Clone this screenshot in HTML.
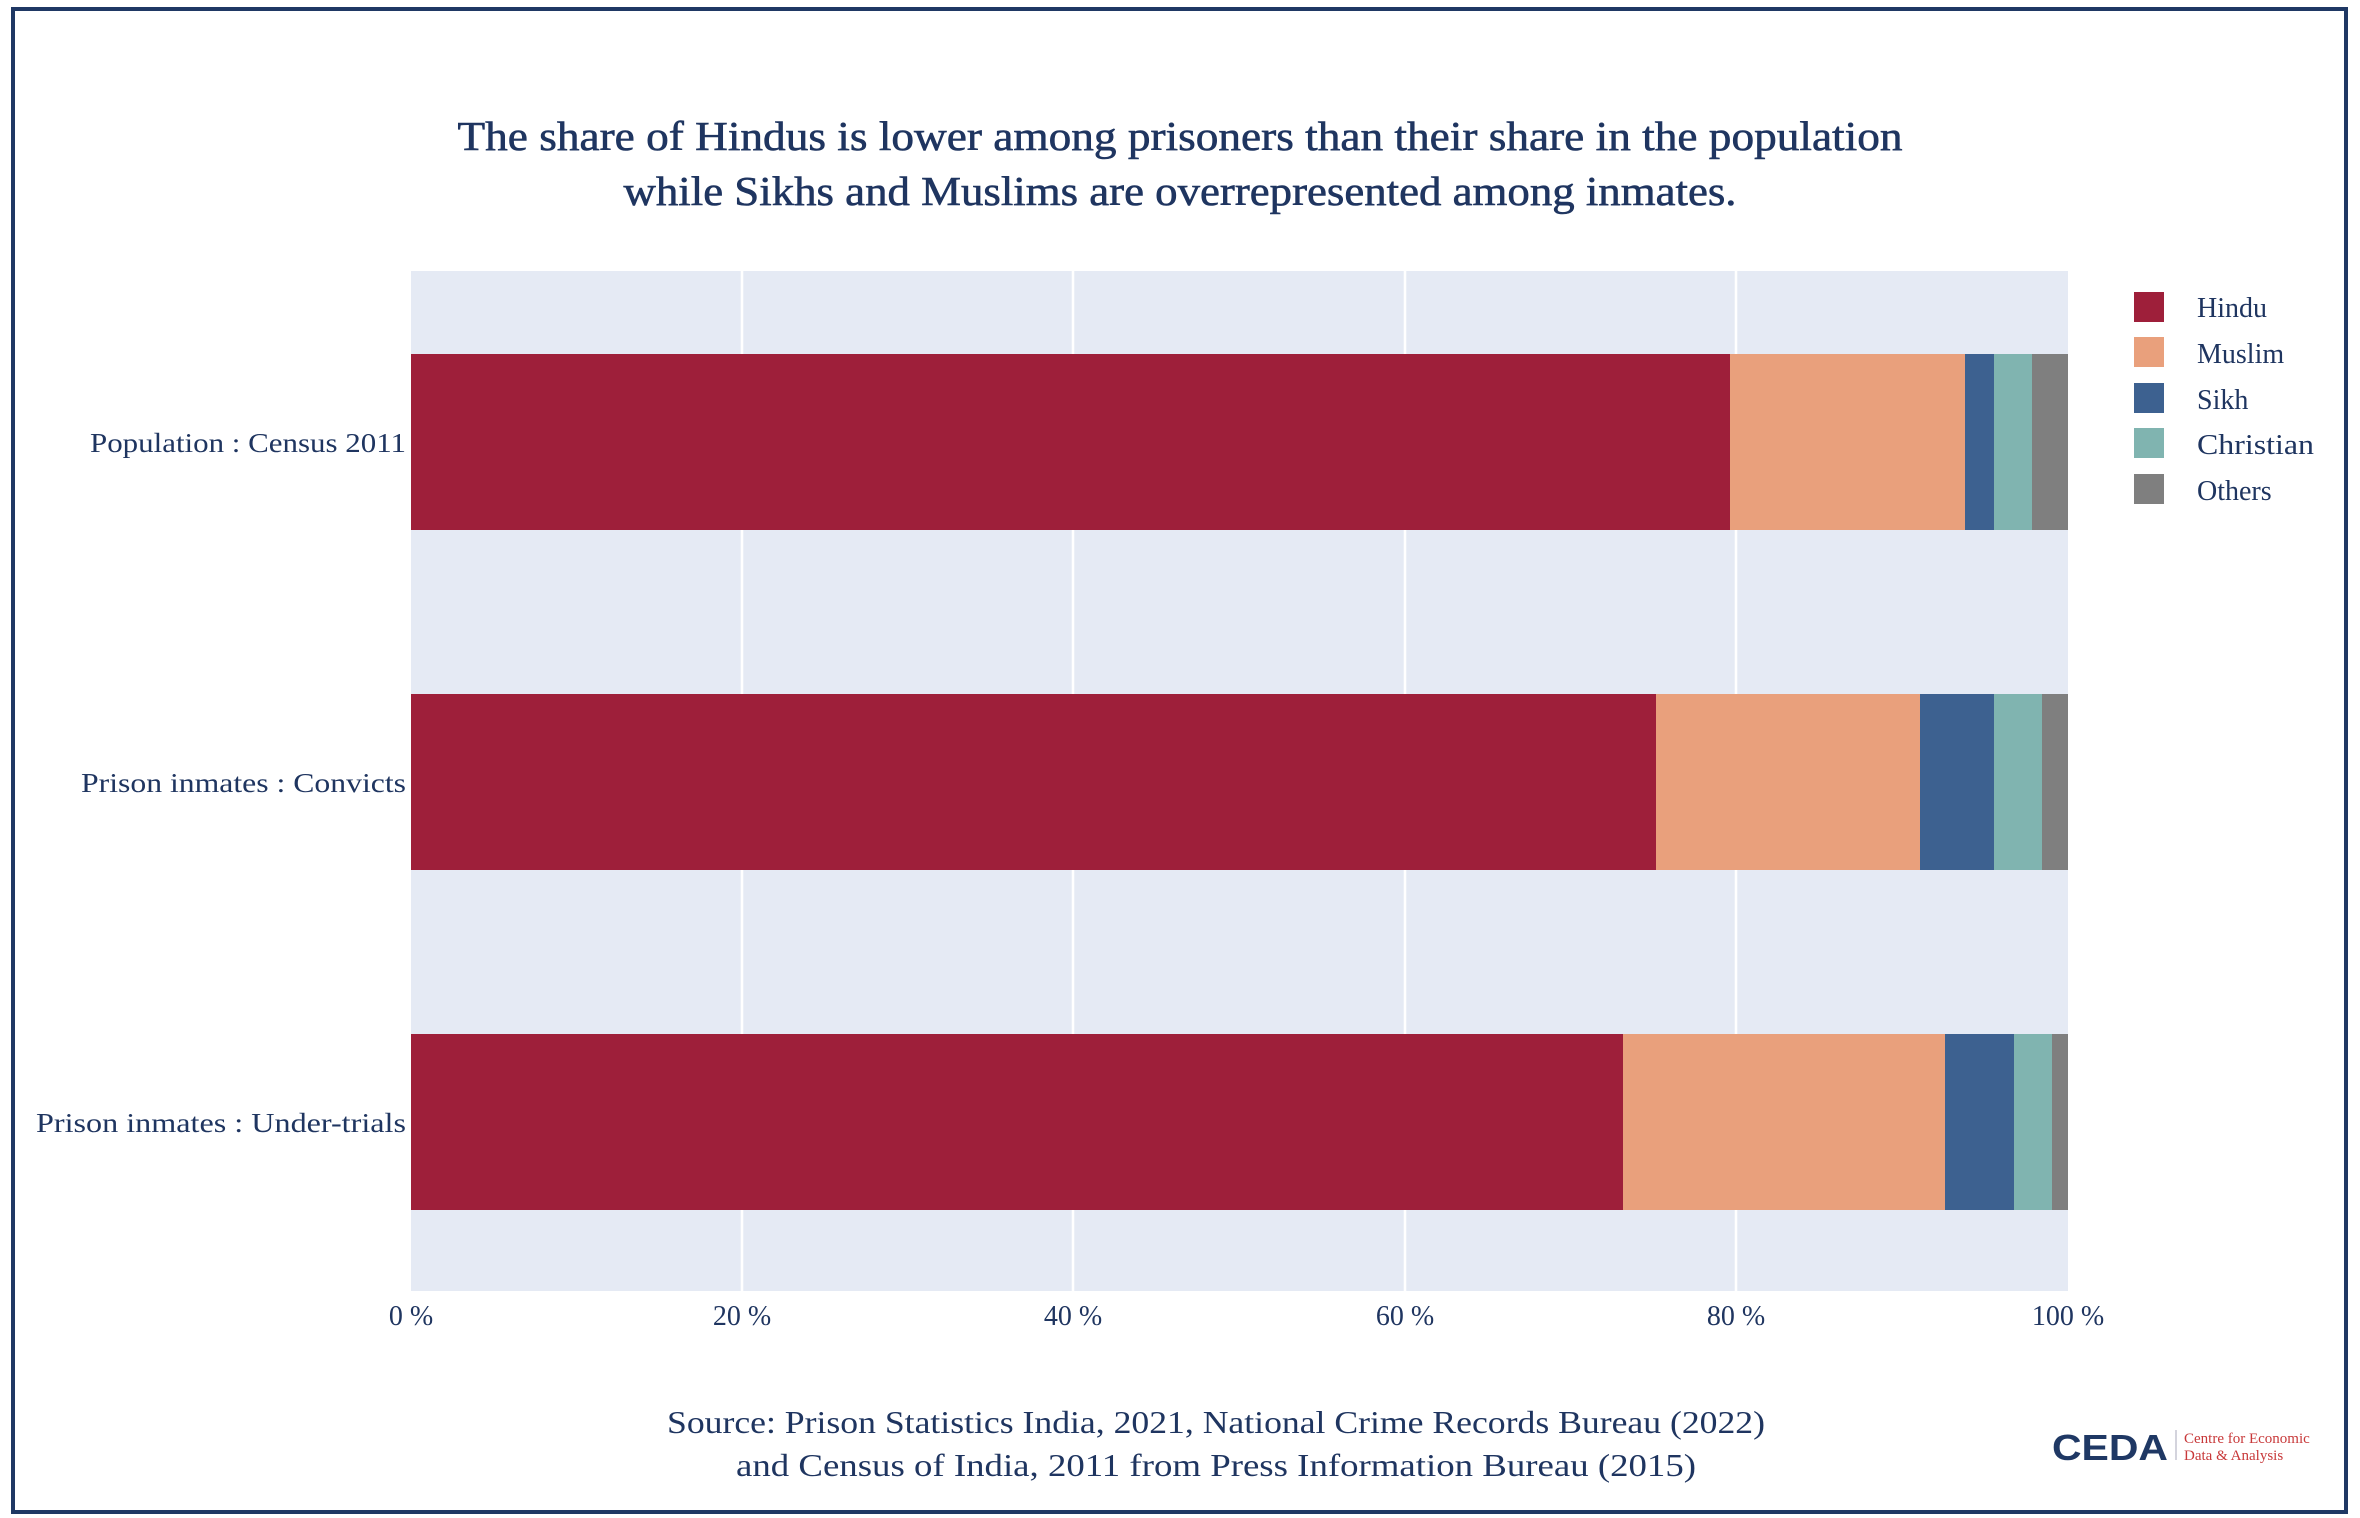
<!DOCTYPE html>
<html><head><style>body{margin:0;background:#fff}svg{display:block}text{font-family:"Liberation Serif",serif;fill:#1f3560}</style></head>
<body>
<svg width="2360" height="1518" viewBox="0 0 2360 1518" xmlns="http://www.w3.org/2000/svg">
<rect x="0" y="0" width="2360" height="1518" fill="#fff"/>
<rect x="13" y="9" width="2333" height="1503" fill="none" stroke="#1f3864" stroke-width="4"/>
<text x="1180" y="150" font-size="41" text-anchor="middle" textLength="1445" lengthAdjust="spacingAndGlyphs" stroke="#1f3560" stroke-width="0.6">The share of Hindus is lower among prisoners than their share in the population</text>
<text x="1180" y="205" font-size="41" text-anchor="middle" textLength="1113" lengthAdjust="spacingAndGlyphs" stroke="#1f3560" stroke-width="0.6">while Sikhs and Muslims are overrepresented among inmates.</text>
<rect x="411" y="271" width="1657" height="1020" fill="#e5eaf4"/>
<g stroke="#fff" stroke-width="2.5">
<line x1="742" y1="271" x2="742" y2="1291"/><line x1="1073" y1="271" x2="1073" y2="1291"/>
<line x1="1405" y1="271" x2="1405" y2="1291"/><line x1="1736" y1="271" x2="1736" y2="1291"/>
</g>
<g>
<rect x="411" y="354" width="1319" height="176" fill="#9e1f3a"/>
<rect x="1730" y="354" width="235" height="176" fill="#e9a07c"/>
<rect x="1965" y="354" width="29" height="176" fill="#3d6190"/>
<rect x="1994" y="354" width="38" height="176" fill="#80b4b0"/>
<rect x="2032" y="354" width="36" height="176" fill="#7f7f7f"/>

<rect x="411" y="694" width="1245" height="176" fill="#9e1f3a"/>
<rect x="1656" y="694" width="264" height="176" fill="#e9a07c"/>
<rect x="1920" y="694" width="74" height="176" fill="#3d6190"/>
<rect x="1994" y="694" width="48" height="176" fill="#80b4b0"/>
<rect x="2042" y="694" width="26" height="176" fill="#7f7f7f"/>

<rect x="411" y="1034" width="1212" height="176" fill="#9e1f3a"/>
<rect x="1623" y="1034" width="322" height="176" fill="#e9a07c"/>
<rect x="1945" y="1034" width="69" height="176" fill="#3d6190"/>
<rect x="2014" y="1034" width="38" height="176" fill="#80b4b0"/>
<rect x="2052" y="1034" width="16" height="176" fill="#7f7f7f"/>
</g>
<g font-size="27" text-anchor="end">
<text x="406" y="452" textLength="316" lengthAdjust="spacingAndGlyphs">Population : Census 2011</text>
<text x="406" y="792" textLength="325" lengthAdjust="spacingAndGlyphs">Prison inmates : Convicts</text>
<text x="406" y="1132" textLength="370" lengthAdjust="spacingAndGlyphs">Prison inmates : Under-trials</text>
</g>
<g font-size="28" text-anchor="middle">
<text x="411" y="1325">0 %</text><text x="742" y="1325">20 %</text><text x="1073" y="1325">40 %</text>
<text x="1405" y="1325">60 %</text><text x="1736" y="1325">80 %</text><text x="2068" y="1325">100 %</text>
</g>
<g font-size="28">
<rect x="2134" y="292" width="30" height="30" fill="#9e1f3a"/><text x="2197" y="317">Hindu</text>
<rect x="2134" y="337" width="30" height="30" fill="#e9a07c"/><text x="2197" y="363">Muslim</text>
<rect x="2134" y="383" width="30" height="30" fill="#3d6190"/><text x="2197" y="409">Sikh</text>
<rect x="2134" y="428" width="30" height="30" fill="#80b4b0"/><text x="2197" y="454" textLength="117" lengthAdjust="spacingAndGlyphs">Christian</text>
<rect x="2134" y="474" width="30" height="30" fill="#7f7f7f"/><text x="2197" y="500">Others</text>
</g>
<text x="1216" y="1433" font-size="32" text-anchor="middle" textLength="1098" lengthAdjust="spacingAndGlyphs">Source: Prison Statistics India, 2021, National Crime Records Bureau (2022)</text>
<text x="1216" y="1476" font-size="32" text-anchor="middle" textLength="960" lengthAdjust="spacingAndGlyphs">and Census of India, 2011 from Press Information Bureau (2015)</text>
<text x="2052" y="1460" font-size="36" font-weight="bold" style="font-family:'Liberation Sans',sans-serif;fill:#1f3864" textLength="116" lengthAdjust="spacingAndGlyphs">CEDA</text>
<line x1="2176" y1="1430" x2="2176" y2="1460" stroke="#aab" stroke-width="1"/>
<text x="2184" y="1443" font-size="15" style="fill:#c8393a">Centre for Economic</text>
<text x="2184" y="1460" font-size="15" style="fill:#c8393a">Data &amp; Analysis</text>
</svg>
</body></html>
